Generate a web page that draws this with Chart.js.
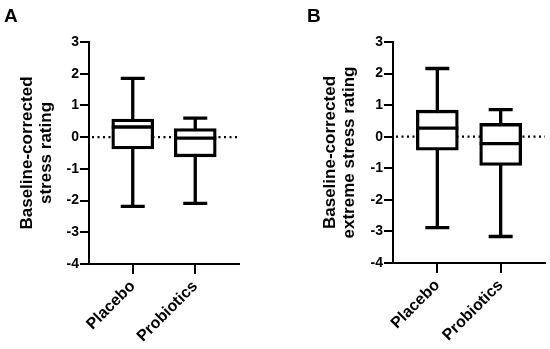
<!DOCTYPE html>
<html>
<head>
<meta charset="utf-8">
<script src="https://cdn.jsdelivr.net/npm/chart.js@4.4.1/dist/chart.umd.min.js"></script>
<style>
  body { margin: 0; background: #fff; font-family: "Liberation Sans", Arial, sans-serif; }
  #wrap { position: relative; width: 550px; height: 349px; }
  .panel { position: absolute; top: 0; width: 275px; height: 349px; }
  .letter { position: absolute; top: 5px; font-weight: bold; font-size: 19px; color: #000; }
</style>
</head>
<body>
<div id="wrap">
  <div class="panel" style="left:0"><canvas id="chart-a"></canvas></div>
  <div class="panel" style="left:275px"><canvas id="chart-b"></canvas></div>
  <div class="letter" style="left:4px">A</div>
  <div class="letter" style="left:307px">B</div>
</div>
<script>
const categories = ['Placebo', 'Probiotics'];
const yTicks = [-4, -3, -2, -1, 0, 1, 2, 3];

// panel A: baseline-corrected stress rating
const aMin = [-2.18, -2.09];
const aQ1 = [-0.37, -0.62];
const aMedian = [0.32, -0.03];
const aQ3 = [0.57, 0.27];
const aMax = [1.85, 0.6];

// panel B: baseline-corrected extreme stress rating
const bMin = [-2.88, -3.16];
const bQ1 = [-0.43, -0.91];
const bMedian = [0.27, -0.22];
const bQ3 = [0.84, 0.42];
const bMax = [2.16, 0.86];

const boxExtras = {
  id: 'boxExtras',
  beforeDatasetsDraw(chart, args, opts) {
    const ctx = chart.ctx;
    const x = chart.scales.x;
    const y = chart.scales.y;
    const area = chart.chartArea;
    ctx.save();
    // dotted zero line
    ctx.strokeStyle = '#000';
    ctx.lineWidth = 2.2;
    ctx.setLineDash([2, 3.5]);
    ctx.beginPath();
    ctx.moveTo(area.left + 3, y.getPixelForValue(0));
    ctx.lineTo(area.right, y.getPixelForValue(0));
    ctx.stroke();
    ctx.setLineDash([]);
    // whiskers + caps
    ctx.lineWidth = 3.3;
    ctx.lineCap = 'butt';
    opts.mins.forEach((lo, i) => {
      const px = x.getPixelForValue(i + 1);
      const yLo = y.getPixelForValue(lo);
      const yHi = y.getPixelForValue(opts.maxs[i]);
      ctx.beginPath();
      ctx.moveTo(px, yLo);
      ctx.lineTo(px, yHi);
      ctx.moveTo(px - 12, yLo);
      ctx.lineTo(px + 12, yLo);
      ctx.moveTo(px - 12, yHi);
      ctx.lineTo(px + 12, yHi);
      ctx.stroke();
    });
    ctx.restore();
  },
  afterDatasetsDraw(chart, args, opts) {
    const ctx = chart.ctx;
    const y = chart.scales.y;
    const meta = chart.getDatasetMeta(0);
    ctx.save();
    ctx.strokeStyle = '#000';
    ctx.lineWidth = 3.3;
    opts.medians.forEach((m, i) => {
      const bar = meta.data[i];
      const py = y.getPixelForValue(m);
      ctx.beginPath();
      ctx.moveTo(bar.x - bar.width / 2, py);
      ctx.lineTo(bar.x + bar.width / 2, py);
      ctx.stroke();
    });
    ctx.restore();
  }
};

function makeChart(id, q1, q3, mins, maxs, medians, title, yWidth, titlePad, padRight, bottomY) {
  return new Chart(document.getElementById(id), {
    type: 'bar',
    data: {
      datasets: [{
        data: categories.map((c, i) => ({ x: i + 1, y: [q1[i], q3[i]] })),
        backgroundColor: '#fff',
        borderColor: '#000',
        borderWidth: 3.3,
        borderSkipped: false,
        barThickness: 42
      }]
    },
    options: {
      responsive: true,
      maintainAspectRatio: false,
      animation: false,
      layout: { padding: { top: 42, right: padRight, left: 0, bottom: 0 } },
      plugins: {
        legend: { display: false },
        tooltip: { enabled: false },
        boxExtras: { mins: mins, maxs: maxs, medians: medians }
      },
      scales: {
        x: {
          type: 'linear',
          min: 0.3,
          max: 2.7,
          offset: false,
          afterBuildTicks: (scale) => { scale.ticks = categories.map((c, i) => ({ value: i + 1 })); },
          afterFit: (scale) => { scale.height = 349 - bottomY; },
          border: { display: true, color: '#000', width: 2 },
          grid: { offset: false, drawOnChartArea: false, drawTicks: true, tickLength: 10, color: '#000', lineWidth: 2 },
          ticks: {
            color: '#000',
            minRotation: 45,
            maxRotation: 45,
            padding: 3,
            autoSkip: false,
            font: { family: 'Liberation Sans', size: 16, weight: 'bold' },
            callback: (v) => categories[v - 1]
          }
        },
        y: {
          min: -4,
          max: 3,
          afterBuildTicks: (scale) => { scale.ticks = yTicks.map(v => ({ value: v })); },
          afterFit: (scale) => { scale.width = yWidth; },
          border: { display: true, color: '#000', width: 2 },
          grid: { drawOnChartArea: false, drawTicks: true, tickLength: 9, color: '#000', lineWidth: 2 },
          ticks: {
            color: '#000',
            padding: 1,
            font: { family: 'Liberation Sans', size: 14, weight: 'bold' }
          },
          title: {
            display: true,
            text: title,
            color: '#000',
            padding: { top: titlePad, bottom: 0 },
            font: { family: 'Liberation Sans', size: 17, weight: 'bold', lineHeight: 1.1 }
          }
        }
      }
    },
    plugins: [boxExtras]
  });
}

makeChart('chart-a', aQ1, aQ3, aMin, aMax, aMedian,
  ['Baseline-corrected', 'stress rating'], 89, 18, 36, 264);
makeChart('chart-b', bQ1, bQ3, bMin, bMax, bMedian,
  ['Baseline-corrected', 'extreme stress rating'], 118, 46, 5, 263);
</script>
</body>
</html>
